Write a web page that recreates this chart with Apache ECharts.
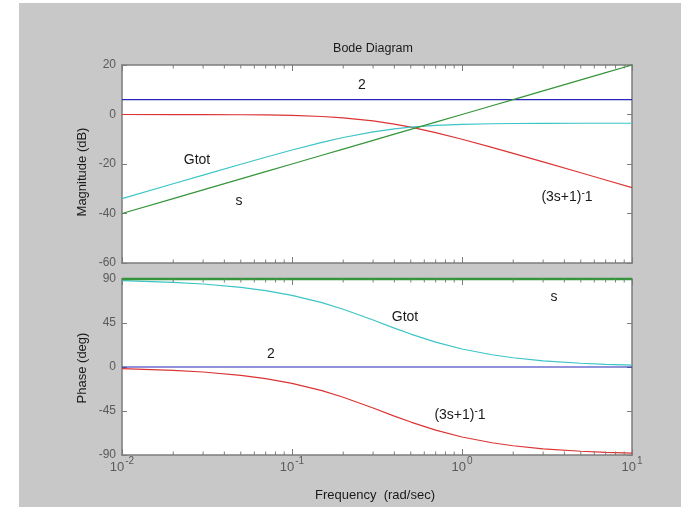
<!DOCTYPE html>
<html>
<head>
<meta charset="utf-8">
<script src="https://cdn.jsdelivr.net/npm/echarts@6/dist/echarts.min.js"></script>
<style>
  html, body { margin: 0; padding: 0; background: #ffffff; width: 681px; height: 507px; overflow: hidden; }
  #chart { position: absolute; left: 19px; top: 3px; width: 662px; height: 504px; }
</style>
</head>
<body>
<div id="chart"></div>
<script>
// Frequency samples (rad/sec)
const freq = [0.01, 0.02, 0.03, 0.05, 0.07, 0.1, 0.15, 0.2, 0.3, 0.4, 0.5, 0.7, 1, 1.5, 2, 3, 5, 7, 10];

// Magnitude (dB)
const magGain = [6.02, 6.02, 6.02, 6.02, 6.02, 6.02, 6.02, 6.02, 6.02, 6.02, 6.02, 6.02, 6.02, 6.02, 6.02, 6.02, 6.02, 6.02, 6.02];
const magDiff = [-40, -33.98, -30.46, -26.02, -23.1, -20, -16.48, -13.98, -10.46, -7.96, -6.02, -3.1, 0, 3.52, 6.02, 9.54, 13.98, 16.9, 20];
const magLag = [0, -0.02, -0.04, -0.1, -0.19, -0.37, -0.8, -1.34, -2.58, -3.87, -5.12, -7.33, -10, -13.27, -15.68, -19.14, -23.54, -26.45, -29.55];
const magTot = [-33.98, -27.98, -24.47, -20.1, -17.27, -14.35, -11.26, -9.3, -7.02, -5.81, -5.12, -4.41, -3.98, -3.73, -3.64, -3.58, -3.54, -3.53, -3.53];

// Phase (deg)
const phGain = [0, 0, 0, 0, 0, 0, 0, 0, 0, 0, 0, 0, 0, 0, 0, 0, 0, 0, 0];
const phDiff = [90, 90, 90, 90, 90, 90, 90, 90, 90, 90, 90, 90, 90, 90, 90, 90, 90, 90, 90];
const phLag = [-1.72, -3.43, -5.14, -8.53, -11.86, -16.7, -24.23, -30.96, -41.99, -50.19, -56.31, -64.54, -71.57, -77.47, -80.54, -83.66, -86.19, -87.27, -88.09];
const phTot = [88.28, 86.57, 84.86, 81.47, 78.14, 73.3, 65.77, 59.04, 48.01, 39.81, 33.69, 25.46, 18.43, 12.53, 9.46, 6.34, 3.81, 2.73, 1.91];

// Axis ticks
const magTicks = [-60, -40, -20, 0, 20];
const phaseTicks = [-90, -45, 0, 45, 90];
const minorFreq = [0.02, 0.03, 0.04, 0.05, 0.06, 0.07, 0.08, 0.09,
                   0.2, 0.3, 0.4, 0.5, 0.6, 0.7, 0.8, 0.9,
                   2, 3, 4, 5, 6, 7, 8, 9];

const FONT = '"Liberation Sans", Arial, sans-serif';
const AX = '#7c7c7c';
const LBL = '#5a5a5a';
const C_BLUE = '#2626b8', C_GREEN = '#35953a', C_RED = '#dc3434', C_CYAN = '#3cc4c6';

const pairs = ys => freq.map((f, i) => [f, ys[i]]);

function xAxisDef(gridIndex, position, showLabels) {
  return {
    type: 'log', logBase: 10, gridIndex, position, min: 0.01, max: 10,
    axisLine: { show: true, onZero: false, lineStyle: { color: AX, width: 1.5 } },
    axisTick: { show: true, inside: true, length: 6, lineStyle: { color: AX, width: 1 } },
    splitLine: { show: false },
    axisLabel: {
      show: showLabels, margin: 1, color: LBL, fontFamily: FONT,
      formatter: v => '{b|10}{e|' + Math.round(Math.log10(v)) + '}',
      rich: {
        b: { fontSize: 13, fontFamily: FONT, color: LBL, verticalAlign: 'bottom', lineHeight: 18 },
        e: { fontSize: 10, fontFamily: FONT, color: LBL, verticalAlign: 'top', lineHeight: 18, padding: [0, 0, 9, 1] }
      }
    }
  };
}

function yAxisDef(gridIndex, position, min, max, interval, showLabels) {
  return {
    type: 'value', gridIndex, position, min, max, interval,
    axisLine: { show: true, onZero: false, lineStyle: { color: AX, width: 1.5 } },
    axisTick: { show: true, inside: true, length: 5, lineStyle: { color: AX, width: 1 } },
    splitLine: { show: false },
    axisLabel: { show: showLabels, margin: 6, color: LBL, fontSize: 12, fontFamily: FONT }
  };
}

// Minor ticks along the top and bottom edges of a log-frequency panel
function minorTickSeries(xi, yi, yMin, yMax) {
  return {
    type: 'custom', xAxisIndex: xi, yAxisIndex: yi, silent: true, z: 5,
    data: minorFreq.map(f => [f]),
    renderItem: (params, api) => {
      const f = api.value(0);
      const bot = api.coord([f, yMin]);
      const top = api.coord([f, yMax]);
      const st = { stroke: AX, lineWidth: 1 };
      return {
        type: 'group',
        children: [
          { type: 'line', shape: { x1: bot[0], y1: bot[1], x2: bot[0], y2: bot[1] - 3.5 }, style: st },
          { type: 'line', shape: { x1: top[0], y1: top[1], x2: top[0], y2: top[1] + 3.5 }, style: st }
        ]
      };
    }
  };
}

function line(xi, yi, data, color, width) {
  return {
    type: 'line', xAxisIndex: xi, yAxisIndex: yi, data: pairs(data),
    showSymbol: false, symbol: 'none', smooth: false, clip: false, z: 3,
    lineStyle: { color, width: width || 1.2 }, emphasis: { disabled: true }
  };
}

function note(x, y, text, size) {
  return {
    type: 'text', x, y, z: 100,
    style: {
      text, fill: '#1a1a1a', font: (size || 14) + 'px ' + FONT,
      align: 'center', verticalAlign: 'middle',
      rich: { sup: { fontSize: 10, fontFamily: FONT, fill: '#1a1a1a', verticalAlign: 'top', padding: [0, 0, 8, 0] } }
    }
  };
}

function vtitle(x, y, text) {
  return {
    type: 'text', x, y, rotation: Math.PI / 2, z: 100,
    style: { text, fill: '#1a1a1a', font: '13px ' + FONT, align: 'center', verticalAlign: 'middle' }
  };
}

const chart = echarts.init(document.getElementById('chart'), null, { renderer: 'canvas' });
chart.setOption({
  backgroundColor: '#c8c8c8',
  animation: false,
  grid: [
    { left: 103, top: 62, width: 510, height: 198, show: true, backgroundColor: '#ffffff', borderWidth: 0 },
    { left: 103, top: 276, width: 510, height: 176, show: true, backgroundColor: '#ffffff', borderWidth: 0 }
  ],
  xAxis: [
    xAxisDef(0, 'bottom', false),
    xAxisDef(0, 'top', false),
    xAxisDef(1, 'bottom', true),
    xAxisDef(1, 'top', false)
  ],
  yAxis: [
    yAxisDef(0, 'left', magTicks[0], magTicks[magTicks.length - 1], 20, true),
    yAxisDef(0, 'right', magTicks[0], magTicks[magTicks.length - 1], 20, false),
    yAxisDef(1, 'left', phaseTicks[0], phaseTicks[phaseTicks.length - 1], 45, true),
    yAxisDef(1, 'right', phaseTicks[0], phaseTicks[phaseTicks.length - 1], 45, false)
  ],
  series: [
    line(0, 0, magGain, C_BLUE),
    line(0, 0, magLag, C_RED),
    line(0, 0, magTot, C_CYAN),
    line(0, 0, magDiff, C_GREEN),
    line(2, 2, phGain, C_BLUE),
    line(2, 2, phLag, C_RED),
    line(2, 2, phTot, C_CYAN),
    line(2, 2, phDiff, C_GREEN, 2.5),
    minorTickSeries(0, 0, -60, 20),
    minorTickSeries(2, 2, -90, 90)
  ],
  graphic: [
    note(354, 46, 'Bode Diagram', 12.5),
    vtitle(63, 169, 'Magnitude (dB)'),
    vtitle(63, 365, 'Phase (deg)'),
    note(356, 492, 'Frequency  (rad/sec)', 13),
    note(343, 82, '2'),
    note(178, 157, 'Gtot'),
    note(220, 198, 's'),
    note(548, 194, '(3s+1){sup|-}1'),
    note(535, 294, 's'),
    note(386, 314, 'Gtot'),
    note(252, 351, '2'),
    note(441, 412, '(3s+1){sup|-}1')
  ]
});
</script>
</body>
</html>
